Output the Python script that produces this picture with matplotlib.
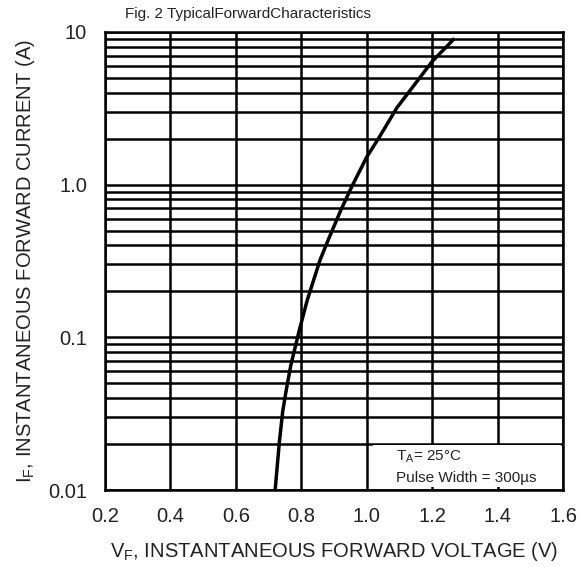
import matplotlib
matplotlib.use('Agg')
import matplotlib.pyplot as plt
from matplotlib.ticker import FixedLocator, FixedFormatter, LogLocator, NullFormatter
from matplotlib.patches import Rectangle

# forward characteristic
vf = [0.720, 0.733, 0.743, 0.753, 0.768, 0.794, 0.818, 0.857, 0.882,
      0.921, 0.954, 1.000, 1.039, 1.092, 1.141, 1.199, 1.268]
i_f = [0.01, 0.0207, 0.0326, 0.044, 0.0659, 0.1117, 0.175, 0.32, 0.434,
       0.683, 0.969, 1.52, 2.06, 3.19, 4.38, 6.38, 9.08]

x_ticks = [0.2, 0.4, 0.6, 0.8, 1.0, 1.2, 1.4, 1.6]
x_labels = ['0.2', '0.4', '0.6', '0.8', '1.0', '1.2', '1.4', '1.6']
y_ticks = [0.01, 0.1, 1.0, 10]
y_labels = ['0.01', '0.1', '1.0', '10']

plt.rcParams['font.family'] = ['Liberation Sans', 'DejaVu Sans']

fig = plt.figure(figsize=(5.83, 5.67), dpi=100)
ax = fig.add_axes([0.180, 0.1358, 0.786, 0.8078])

ax.set_yscale('log')
ax.set_xlim(0.2, 1.6)
ax.set_ylim(0.01, 10)

ax.xaxis.set_major_locator(FixedLocator(x_ticks))
ax.xaxis.set_major_formatter(FixedFormatter(x_labels))
ax.yaxis.set_major_locator(FixedLocator(y_ticks))
ax.yaxis.set_major_formatter(FixedFormatter(y_labels))
ax.yaxis.set_minor_locator(LogLocator(base=10, subs=range(2, 10)))
ax.yaxis.set_minor_formatter(NullFormatter())

ax.tick_params(which='both', length=0, labelsize=14.5, colors='#222222')
ax.tick_params(axis='x', pad=12)
ax.tick_params(axis='y', pad=13)

ax.grid(True, which='both', axis='y', color='black', linewidth=1.8)
ax.grid(True, which='major', axis='x', color='black', linewidth=1.8)
ax.set_axisbelow(True)
for sp in ax.spines.values():
    sp.set_linewidth(1.8)
    sp.set_zorder(6)

ax.plot(vf, i_f, color='black', linewidth=2.5, zorder=4,
        solid_joinstyle='round', solid_capstyle='butt')

# white note box in the lower right corner
ax.add_patch(Rectangle((0.585, 0.006), 0.41, 0.092, transform=ax.transAxes,
                       facecolor='white', edgecolor='none', zorder=3))
ax.text(0.635, 0.072, r'T$_\mathregular{A}$= 25°C', transform=ax.transAxes,
        fontsize=11, va='center', ha='left', zorder=5, color='#222222')
ax.text(0.635, 0.026, 'Pulse Width = 300µs', transform=ax.transAxes,
        fontsize=11, va='center', ha='left', zorder=5, color='#222222')

ax.set_xlabel(r'V$_\mathregular{F}$, INSTANTANEOUS FORWARD VOLTAGE (V)',
              fontsize=14.5, labelpad=10, color='#222222')
ax.set_ylabel(r'I$_\mathregular{F}$, INSTANTANEOUS FORWARD CURRENT (A)',
              fontsize=14.5, labelpad=8, color='#222222')

fig.text(0.214, 0.975, 'Fig. 2 TypicalForwardCharacteristics',
         fontsize=11, ha='left', va='center', color='#222222')

fig.savefig('out.png', dpi=100, facecolor='white')
